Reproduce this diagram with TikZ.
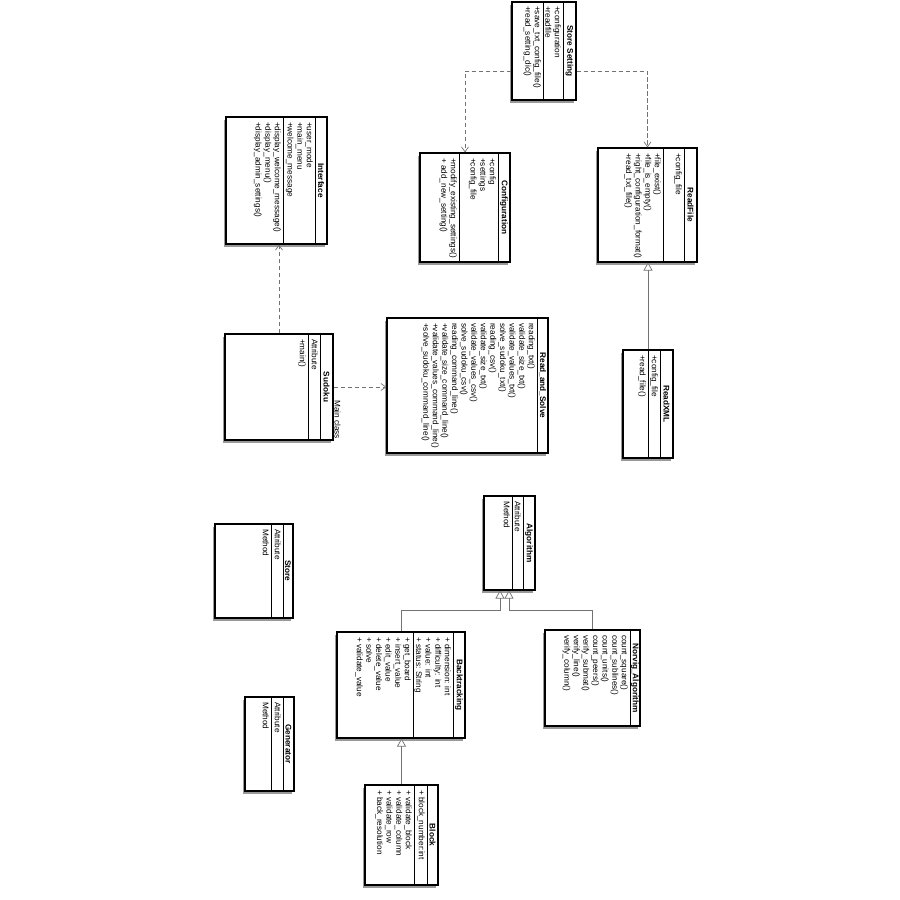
\documentclass[tikz,border=0pt]{standalone}
\usepackage{fontspec}
\setmainfont{Liberation Sans}
\usetikzlibrary{fit,shadows,arrows.meta}
\tikzset{
  x=1pt,y=-1pt,
  clsbox/.style={draw=black,line width=1.1pt,fill=white,inner sep=0pt,
    drop shadow={shadow xshift=-2.5pt,shadow yshift=-2.5pt,fill=black!40,opacity=1}},
  divline/.style={draw=black,line width=1pt},
  ttl/.style={rotate=-90,inner sep=0pt,font=\fontsize{8.2}{9.6}\selectfont\bfseries},
  mem/.style={rotate=-90,anchor=north west,align=left,inner sep=0pt,font=\fontsize{8.2}{9.6}\selectfont},
  dep/.style={draw=black!55,line width=0.7pt,dash pattern=on 4.5pt off 2.5pt,-{Straight Barb[length=5pt,width=7pt]}},
  gen/.style={draw=black!55,line width=0.7pt,-{Triangle[open,length=8pt,width=9pt,fill=white]}},
}
\newcommand\umlcls[7]{%
  \node[clsbox, fit={(#2,#3) (#4,#5)}] (#1) {};
  \draw[divline] (#6,#3) -- (#6,#5);
  \ifx&#7&\else\draw[divline] (#7,#3) -- (#7,#5);\fi
}
\begin{document}
\begin{tikzpicture}
\useasboundingbox[fill=white] (0,0) rectangle (900,900);

% Store Setting
\umlcls{ss}{512}{2}{576}{100}{563}{543}
\node[ttl] (ss-t) at (569.5,51) {Store Setting};
\node[mem] (ss-a) at (561,6) {+configuration\\+readfile};
\node[mem] (ss-m) at (541,6) {+save\_txt\_config\_file()\\+read\_setting\_dic()};

% Interface
\umlcls{intf}{226}{117}{327}{244}{315}{283}
\node[ttl] (intf-t) at (321,180.5) {Interface};
\node[mem] (intf-a) at (313,122) {+user\_mode\\+main\_menu\\+welcome\_message};
\node[mem] (intf-m) at (281,122) {+display\_welcome\_message()\\+display\_menu()\\+display\_admin\_settings()};

% Configuration
\umlcls{conf}{420}{153}{510}{262}{498}{459}
\node[ttl] (conf-t) at (504,207.5) {Configuration};
\node[mem] (conf-a) at (496,158) {+config\\+settings\\+config\_file};
\node[mem] (conf-m) at (457,158) {+modify\_existing\_settings()\\+ add\_new\_setting()};

% ReadFile
\umlcls{rf}{598}{148}{697}{262}{684}{663}
\node[ttl] (rf-t) at (690.5,205) {ReadFile};
\node[mem] (rf-a) at (682,153) {+config\_file};
\node[mem] (rf-m) at (661,153) {+file\_exist()\\+file\_is\_empty()\\+right\_configuration\_format()\\+read\_txt\_file()};

% Sudoku
\umlcls{sud}{225}{334}{333}{440}{320}{308}
\node[ttl] (sud-t) at (326.5,387) {Sudoku};
\node[mem] (sud-a) at (318,339) {Attribute};
\node[mem] (sud-m) at (306,339) {+main()};
\node[mem,anchor=west] (sud-l) at (337.5,400) {Main class};

% Read_and_Solve
\umlcls{rs}{387}{318}{548}{453}{537}{}
\node[ttl] (rs-t) at (542.5,385.5) {Read\_and\_Solve};
\node[mem] (rs-m) at (535,323) {reading\_txt()\\validate\_size\_txt()\\validate\_values\_txt()\\solve\_sudoku\_txt()\\reading\_csv()\\validate\_size\_txt()\\validate\_values\_csv()\\solve\_sudoku\_csv()\\reading\_command\_line()\\+validate\_size\_command\_line()\\+validate\_values\_command\_line()\\+solve\_sudoku\_command\_line()};

% ReadXML
\umlcls{rx}{623}{350}{673}{458}{660}{648}
\node[ttl] (rx-t) at (666.5,404) {ReadXML};
\node[mem] (rx-a) at (658,355) {+config\_file};
\node[mem] (rx-m) at (646,355) {+read\_file()};

% Algorithm
\umlcls{alg}{484}{496}{535}{590}{523}{512}
\node[ttl] (alg-t) at (529,543) {Algorithm};
\node[mem] (alg-a) at (521,501) {Attribute};
\node[mem] (alg-m) at (510,501) {Method};

% Store
\umlcls{st}{215}{524}{293}{618}{283}{271}
\node[ttl] (st-t) at (288,571) {Store};
\node[mem] (st-a) at (281,529) {Attribute};
\node[mem] (st-m) at (269,529) {Method};

% Backtracking
\umlcls{bt}{337}{632}{465}{738}{453}{413}
\node[ttl] (bt-t) at (459,685) {Backtracking};
\node[mem] (bt-a) at (451,637) {+ dimension: int\\+ difficulty: int\\+ value: int\\+ status: String};
\node[mem] (bt-m) at (411,637) {+ get\_board\\+ insert\_value\\+ edit\_value\\+ delete\_value\\+ solve\\+ validate\_value};

% Norvig_Algorithm
\umlcls{nv}{545}{630}{640}{726}{630}{}
\node[ttl] (nv-t) at (635,678) {Norvig\_Algorithm};
\node[mem] (nv-m) at (628,635) {count\_square()\\count\_sublines()\\count\_units()\\count\_peers()\\verify\_submat()\\verify\_line()\\verify\_column()};

% Generator
\umlcls{gen}{245}{697}{294}{791}{283}{271}
\node[ttl] (gen-t) at (288.5,744) {Generator};
\node[mem] (gen-a) at (281,702) {Attribute};
\node[mem] (gen-m) at (269,702) {Method};

% Block
\umlcls{blk}{365}{785}{438}{885}{427}{414}
\node[ttl] (blk-t) at (432.5,835) {Block};
\node[mem] (blk-a) at (425,790) {+ block\_number:int};
\node[mem] (blk-m) at (412,790) {+ validate\_block\\+ validate\_column\\+ validate\_row\\+ back\_resolution};

% connectors
\coordinate (j1) at (0,610);
\draw[dep] ([yshift=-20pt]ss.west) -| (conf.north);
\draw[dep] ([yshift=-20pt]ss.east) -| (rf.north);
\draw[dep] (sud.north) -- (sud.north |- intf.south);
\draw[dep] (sud.east) -- (sud.east -| rs.west);
\draw[gen] (rx.north) -- (rx.north |- rf.south);
\draw[gen] (bt.north) -- (bt.north |- j1) -| ([xshift=-9.5pt]alg.south);
\draw[gen] (nv.north) -- (nv.north |- j1) -| ([xshift=-0.5pt]alg.south);
\draw[gen] (blk.north) -- (blk.north |- bt.south);
\end{tikzpicture}
\end{document}
